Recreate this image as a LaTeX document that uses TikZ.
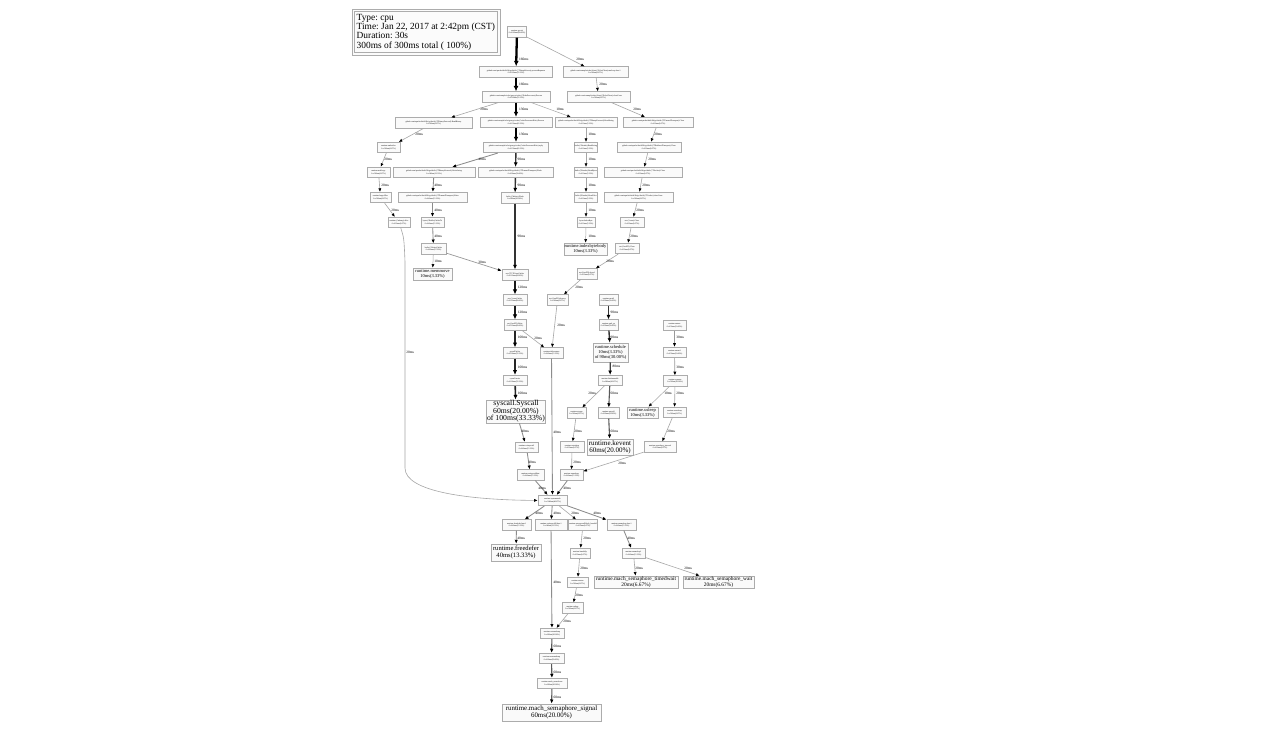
\documentclass[tikz,border=0pt]{standalone}
\usepackage{fontspec}
\setmainfont{Liberation Serif}
\usetikzlibrary{arrows.meta}
\frenchspacing
\begin{document}
\begin{tikzpicture}[x=1pt,y=-1pt,
  sn/.style={draw=gray!65, line width=0.6pt, fill=gray!4, font=\fontsize{2}{2.6}\selectfont, align=center, inner sep=0.6pt, minimum height=10.5pt},
  bn/.style={draw=gray!65, line width=0.6pt, fill=gray!4, align=center, inner sep=0.5pt},
  legend/.style={align=left, inner sep=0pt, anchor=west, font=\fontsize{9.4}{9.3}\selectfont},
  lbl/.style={font=\fontsize{3.5}{4}\selectfont, anchor=west, inner sep=0pt},
  tip/.style={-{Latex[length=3pt 1.1, width=2.4pt 1.1, color=black]}},
  w10/.style={tip, draw=gray!70, line width=0.5pt},
  w20/.style={tip, draw=gray!70, line width=0.6pt},
  w30/.style={tip, draw=gray!80, line width=0.7pt},
  w40/.style={tip, draw=gray!90, line width=0.85pt},
  w60/.style={tip, draw=black!65, line width=1.1pt},
  w80/.style={tip, draw=black!75, line width=1.3pt},
  w90/.style={tip, draw=black!80, line width=1.4pt},
  w100/.style={tip, draw=black!85, line width=1.6pt},
  w120/.style={tip, draw=black!90, line width=1.8pt},
  w130/.style={tip, draw=black, line width=2pt},
  w160/.style={tip, draw=black, line width=2.3pt}
]
\useasboundingbox (0,0) rectangle (1264,732);
\fill[white] (0,0) rectangle (1264,732);

% legend
\draw[gray!65, line width=0.7pt, fill=gray!3] (352,9) rectangle (500,55);
\draw[gray!65, line width=0.7pt] (354.5,11.5) rectangle (497.5,52.5);
\node[legend] (legend) at (356.5,32) {Type: cpu\\Time: Jan 22, 2017 at 2:42pm (CST)\\Duration: 30s\\300ms of 300ms total ( 100\%)};

% nodes
\node[sn, minimum width=19pt] (goexit) at (517,32) {runtime.goexit\\0 of 180ms(60.00\%)};
\node[sn, minimum width=73pt] (n2) at (516,72) {github.com/apache/thrift/lib/go/thrift.(*TSimpleServer).processRequests\\0 of 160ms(53.33\%)};
\node[sn, minimum width=65pt] (n3) at (595.5,72) {github.com/example/echo/client.(*EchoClient).runLoop.func1\\0 of 20ms(6.67\%)};
\node[sn, minimum width=68pt] (n4) at (516,97) {github.com/example/echo/gen-go/echo.(*EchoProcessor).Process\\0 of 160ms(53.33\%)};
\node[sn, minimum width=63pt] (n5) at (598.5,97) {github.com/example/echo/client.(*EchoClient).closeConn\\0 of 20ms(6.67\%)};
\node[sn, minimum width=77pt] (n6) at (433.5,123) {github.com/apache/thrift/lib/go/thrift.(*TBinaryProtocol).ReadBinary\\0 of 20ms(6.67\%)};
\node[sn, minimum width=72pt] (n7) at (516,122.5) {github.com/example/echo/gen-go/echo.(*echoProcessorEcho).Process\\0 of 130ms(43.33\%)};
\node[sn, minimum width=62pt] (n8) at (586,122.5) {github.com/apache/thrift/lib/go/thrift.(*TBinaryProtocol).ReadString\\0 of 10ms(3.33\%)};
\node[sn, minimum width=70pt] (n9r) at (658,122.5) {github.com/apache/thrift/lib/go/thrift.(*TFramedTransport).Close\\0 of 20ms(6.67\%)};
\node[sn, minimum width=65pt] (n9) at (516,147.5) {github.com/example/echo/gen-go/echo.(*echoProcessorEcho).reply\\0 of 130ms(43.33\%)};
\node[sn, minimum width=23pt] (l1) at (388.5,147.5) {runtime.makeslice\\0 of 20ms(6.67\%)};
\node[sn, minimum width=19pt] (b1) at (586,147.5) {bufio.(*Reader).ReadString\\0 of 10ms(3.33\%)};
\node[sn, minimum width=64pt] (r1) at (649,147.5) {github.com/apache/thrift/lib/go/thrift.(*TBufferedTransport).Close\\0 of 20ms(6.67\%)};
\node[sn, minimum width=23pt] (l2) at (378.5,172.5) {runtime.mallocgc\\0 of 20ms(6.67\%)};
\node[sn, minimum width=82pt] (n10) at (434,172.5) {github.com/apache/thrift/lib/go/thrift.(*TBinaryProtocol).WriteString\\0 of 40ms(13.33\%)};
\node[sn, minimum width=75pt] (n11) at (515.5,172.5) {github.com/apache/thrift/lib/go/thrift.(*TFramedTransport).Flush\\0 of 90ms(30.00\%)};
\node[sn, minimum width=18pt] (b2) at (586,172.5) {bufio.(*Reader).ReadBytes\\0 of 10ms(3.33\%)};
\node[sn, minimum width=78pt] (r2) at (643,172.5) {github.com/apache/thrift/lib/go/thrift.(*TSocket).Close\\0 of 20ms(6.67\%)};
\node[sn, minimum width=21pt] (l3) at (380.5,197.5) {runtime.largeAlloc\\0 of 20ms(6.67\%)};
\node[sn, minimum width=69pt] (n12) at (432.5,197.5) {github.com/apache/thrift/lib/go/thrift.(*TFramedTransport).Write\\0 of 40ms(13.33\%)};
\node[sn, minimum width=28pt] (n15) at (515,198) {bufio.(*Writer).Flush\\0 of 90ms(30.00\%)};
\node[sn, minimum width=19pt] (b3) at (586,197.5) {bufio.(*Reader).ReadSlice\\0 of 10ms(3.33\%)};
\node[sn, minimum width=69pt] (r3) at (638.5,197.5) {github.com/apache/thrift/lib/go/thrift.(*TSocket).closeConn\\0 of 20ms(6.67\%)};
\node[sn, minimum width=22pt] (l4) at (399,222.5) {runtime.(*mheap).alloc\\0 of 20ms(6.67\%)};
\node[sn, minimum width=23pt] (n13) at (432.5,222.5) {bytes.(*Buffer).WriteTo\\0 of 40ms(13.33\%)};
\node[sn, minimum width=18pt] (b4) at (586,222.5) {bytes.IndexByte\\0 of 10ms(3.33\%)};
\node[sn, minimum width=24pt] (r4) at (632,222.5) {net.(*conn).Close\\0 of 20ms(6.67\%)};
\node[sn, minimum width=25pt] (n14) at (433.5,249) {bufio.(*Writer).Write\\0 of 40ms(13.33\%)};
\node[bn, minimum width=43pt, minimum height=12pt, font=\fontsize{4.5}{5}\selectfont] (idx) at (585.5,249) {runtime.indexbytebody\\10ms(3.33\%)};
\node[sn, minimum width=24pt] (r5) at (627,248.5) {net.(*netFD).Close\\0 of 20ms(6.67\%)};
\node[bn, minimum width=39pt, minimum height=12pt, font=\fontsize{4.5}{5}\selectfont] (memmove) at (432.5,274) {runtime.memmove\\10ms(3.33\%)};
\node[sn, minimum width=26pt] (n17) at (515,275) {net.(*TCPConn).Write\\0 of 120ms(40.00\%)};
\node[sn, minimum width=20pt] (r6) at (587,274) {net.(*netFD).decref\\0 of 20ms(6.67\%)};
\node[sn, minimum width=21pt] (r7) at (557.5,300) {net.(*netFD).destroy\\0 of 20ms(6.67\%)};
\node[sn, minimum width=24pt] (n18) at (515,300) {net.(*conn).Write\\0 of 120ms(40.00\%)};
\node[sn, minimum width=19pt] (mcall) at (608.5,300) {runtime.mcall\\0 of 90ms(30.00\%)};
\node[sn, minimum width=22pt] (n19) at (515,325) {net.(*netFD).Write\\0 of 120ms(40.00\%)};
\node[sn, minimum width=19pt] (parkm) at (608.5,325) {runtime.park\_m\\0 of 90ms(30.00\%)};
\node[sn, minimum width=23pt] (mstart) at (674.5,325.5) {runtime.mstart\\0 of 30ms(10.00\%)};
\node[sn, minimum width=24pt] (n20) at (515,353) {syscall.Write\\0 of 100ms(33.33\%)};
\node[sn, minimum width=23pt] (n21) at (551.5,353) {runtime.deferreturn\\0 of 40ms(13.33\%)};
\node[bn, minimum width=35pt, minimum height=19pt, font=\fontsize{4.5}{5.3}\selectfont] (sched) at (610.5,352.5) {runtime.schedule\\10ms(3.33\%)\\of 90ms(30.00\%)};
\node[sn, minimum width=23pt] (mstart1) at (674.5,352.5) {runtime.mstart1\\0 of 30ms(10.00\%)};
\node[sn, minimum width=24pt] (n22) at (515,380.5) {syscall.write\\0 of 100ms(33.33\%)};
\node[sn, minimum width=24pt] (findr) at (610,380.5) {runtime.findrunnable\\0 of 80ms(26.67\%)};
\node[sn, minimum width=24pt] (sysmon) at (675,381) {runtime.sysmon\\0 of 30ms(10.00\%)};
\node[bn, minimum width=58pt, minimum height=23pt, font=\fontsize{7.7}{7.4}\selectfont] (syscall) at (516,411.5) {syscall.Syscall\\60ms(20.00\%)\\of 100ms(33.33\%)};
\node[sn, minimum width=19pt] (stopm) at (576.5,413) {runtime.stopm\\0 of 20ms(6.67\%)};
\node[sn, minimum width=21pt] (netpoll) at (608.5,413) {runtime.netpoll\\0 of 60ms(20.00\%)};
\node[bn, minimum width=31pt, minimum height=11pt, font=\fontsize{4.5}{5}\selectfont] (usleep) at (642.5,412.5) {runtime.usleep\\10ms(3.33\%)};
\node[sn, minimum width=23pt] (notets) at (674.5,412.5) {runtime.notetsleep\\0 of 20ms(6.67\%)};
\node[sn, minimum width=23pt] (n23) at (526.5,447.5) {runtime.exitsyscall\\0 of 40ms(13.33\%)};
\node[sn, minimum width=24pt] (notes) at (572,447) {runtime.notesleep\\0 of 20ms(6.67\%)};
\node[bn, minimum width=46pt, minimum height=16pt, font=\fontsize{7}{7}\selectfont] (kevent) at (610,447) {runtime.kevent\\60ms(20.00\%)};
\node[sn, minimum width=32pt] (notetsi) at (660,447) {runtime.notetsleep\_internal\\0 of 20ms(6.67\%)};
\node[sn, minimum width=27pt] (n24) at (530.5,475) {runtime.exitsyscallfast\\0 of 40ms(13.33\%)};
\node[sn, minimum width=23pt] (semas) at (571.5,475) {runtime.semasleep\\0 of 40ms(13.33\%)};
\node[sn, minimum width=29pt] (sysstk) at (552.5,500.5) {runtime.systemstack\\0 of 140ms(46.67\%)};
\node[sn, minimum width=29pt] (s1) at (516.5,525) {runtime.freedefer.func1\\0 of 40ms(13.33\%)};
\node[sn, minimum width=32pt] (s2) at (551,525) {runtime.exitsyscall0.func1\\0 of 40ms(13.33\%)};
\node[sn, minimum width=20pt] (s3) at (583,525) {runtime.entersyscallblock\_handoff\\0 of 20ms(6.67\%)};
\node[sn, minimum width=29pt] (s4) at (621.5,525) {runtime.semasleep.func1\\0 of 40ms(13.33\%)};
\node[bn, minimum width=50pt, minimum height=17pt, font=\fontsize{6.6}{7}\selectfont] (freedefer) at (516,552.5) {runtime.freedefer\\40ms(13.33\%)};
\node[sn, minimum width=20pt] (handoffp) at (580,553.5) {runtime.handoffp\\0 of 20ms(6.67\%)};
\node[sn, minimum width=23pt] (semas1) at (633.5,553.5) {runtime.semasleep1\\0 of 40ms(13.33\%)};
\node[bn, minimum width=84pt, minimum height=12pt, font=\fontsize{5.4}{5.6}\selectfont] (timedwait) at (636,582) {runtime.mach\_semaphore\_timedwait\\20ms(6.67\%)};
\node[bn, minimum width=71pt, minimum height=12pt, font=\fontsize{5.4}{5.6}\selectfont] (wait) at (718.5,582) {runtime.mach\_semaphore\_wait\\20ms(6.67\%)};
\node[sn, minimum width=21pt] (startm) at (577.5,582.5) {runtime.startm\\0 of 20ms(6.67\%)};
\node[sn, minimum width=21pt] (wakep) at (572.5,608) {runtime.wakep\\0 of 20ms(6.67\%)};
\node[sn, minimum width=24pt] (notew) at (552,633.5) {runtime.notewakeup\\0 of 60ms(20.00\%)};
\node[sn, minimum width=25pt] (semaw) at (551.5,658.5) {runtime.semawakeup\\0 of 60ms(20.00\%)};
\node[sn, minimum width=30pt] (machsr) at (552,683.5) {runtime.mach\_semrelease\\0 of 60ms(20.00\%)};
\node[bn, minimum width=99pt, minimum height=17pt, font=\fontsize{6.9}{7.2}\selectfont] (signal) at (551.5,712.5) {runtime.mach\_semaphore\_signal\\60ms(20.00\%)};

% edges
\draw[w160] (goexit) -- (n2) node[lbl, at={(518,59)}] {160ms};
\draw[w20] (goexit) -- (n3) node[lbl, at={(576,59)}] {20ms};
\draw[w160] (n2) -- (n4) node[lbl, at={(518,84)}] {160ms};
\draw[w20] (n3) -- (n5) node[lbl, at={(599,84)}] {20ms};
\draw[w20] (n4) -- (n6) node[lbl, at={(480,109)}] {20ms};
\draw[w130] (n4) -- (n7) node[lbl, at={(518,109)}] {130ms};
\draw[w10] (n4) -- (n8) node[lbl, at={(556,109)}] {10ms};
\draw[w20] (n5) -- (n9r) node[lbl, at={(633,109)}] {20ms};
\draw[w20] (n6) -- (l1) node[lbl, at={(415,134)}] {20ms};
\draw[w130] (n7) -- (n9) node[lbl, at={(518,134)}] {130ms};
\draw[w10] (n8) -- (b1) node[lbl, at={(588,134)}] {10ms};
\draw[w20] (n9r) -- (r1) node[lbl, at={(654,134)}] {20ms};
\draw[w20] (l1) -- (l2) node[lbl, at={(384,159)}] {20ms};
\draw[w40] (n9) -- (n10) node[lbl, at={(478,159)}] {40ms};
\draw[w90] (n9) -- (n11) node[lbl, at={(517,159)}] {90ms};
\draw[w10] (b1) -- (b2) node[lbl, at={(588,159)}] {10ms};
\draw[w20] (r1) -- (r2) node[lbl, at={(648,159)}] {20ms};
\draw[w20] (l2) -- (l3) node[lbl, at={(381,185)}] {20ms};
\draw[w40] (n10) -- (n12) node[lbl, at={(434,185)}] {40ms};
\draw[w90] (n11) -- (n15) node[lbl, at={(517,185)}] {90ms};
\draw[w10] (b2) -- (b3) node[lbl, at={(588,185)}] {10ms};
\draw[w20] (r2) -- (r3) node[lbl, at={(642,185)}] {20ms};
\draw[w20] (l3) -- (l4) node[lbl, at={(391,210)}] {20ms};
\draw[w40] (n12) -- (n13) node[lbl, at={(434,210)}] {40ms};
\draw[w10] (b3) -- (b4) node[lbl, at={(588,210)}] {10ms};
\draw[w20] (r3) -- (r4) node[lbl, at={(636,210)}] {20ms};
\draw[w40] (n13) -- (n14) node[lbl, at={(434,236)}] {40ms};
\draw[w10] (b4) -- (idx) node[lbl, at={(588,236)}] {10ms};
\draw[w20] (r4) -- (r5) node[lbl, at={(630,236)}] {20ms};
\draw[w10] (n14) -- (memmove) node[lbl, at={(434,261)}] {10ms};
\draw[w30] (n14) -- (n17) node[lbl, at={(478,262)}] {30ms};
\draw[w90] (n15) -- (n17) node[lbl, at={(517,236)}] {90ms};
\draw[w20] (r5) -- (r6) node[lbl, at={(606,261)}] {20ms};
\draw[w120] (n17) -- (n18) node[lbl, at={(517,287)}] {120ms};
\draw[w20] (r6) -- (r7) node[lbl, at={(575,287)}] {20ms};
\draw[w90] (mcall) -- (parkm) node[lbl, at={(610,312)}] {90ms};
\draw[w120] (n18) -- (n19) node[lbl, at={(517,312)}] {120ms};
\draw[w20] (r7) -- (n21) node[lbl, at={(557,325)}] {20ms};
\draw[w100] (n19) -- (n20) node[lbl, at={(517,337)}] {100ms};
\draw[w20] (n19) -- (n21) node[lbl, at={(534,338)}] {20ms};
\draw[w90] (parkm) -- (sched) node[lbl, at={(610,337)}] {90ms};
\draw[w30] (mstart) -- (mstart1) node[lbl, at={(676,337)}] {30ms};
\draw[w100] (n20) -- (n22) node[lbl, at={(517,367)}] {100ms};
\draw[w80] (sched) -- (findr) node[lbl, at={(612,366)}] {80ms};
\draw[w30] (mstart1) -- (sysmon) node[lbl, at={(676,367)}] {30ms};
\draw[w100] (n22) -- (syscall) node[lbl, at={(517,393)}] {100ms};
\draw[w20] (findr) -- (stopm) node[lbl, at={(588,393)}] {20ms};
\draw[w60] (findr) -- (netpoll) node[lbl, at={(610,393)}] {60ms};
\draw[w10] (sysmon) -- (usleep) node[lbl, at={(664,393)}] {10ms};
\draw[w20] (sysmon) -- (notets) node[lbl, at={(676,393)}] {20ms};
\draw[w40] (syscall) -- (n23) node[lbl, at={(521,431)}] {40ms};
\draw[w40] (n21) -- (sysstk) node[lbl, at={(553,432)}] {40ms};
\draw[w20] (stopm) -- (notes) node[lbl, at={(574,431)}] {20ms};
\draw[w60] (netpoll) -- (kevent) node[lbl, at={(610,431)}] {60ms};
\draw[w20] (notets) -- (notetsi) node[lbl, at={(667,431)}] {20ms};
\draw[w40] (n23) -- (n24) node[lbl, at={(528,462)}] {40ms};
\draw[w20] (notes) -- (semas) node[lbl, at={(573,462)}] {20ms};
\draw[w20] (notetsi) -- (semas) node[lbl, at={(618,463)}] {20ms};
\draw[w40] (n24) -- (sysstk) node[lbl, at={(538,488)}] {40ms};
\draw[w40] (semas) -- (sysstk) node[lbl, at={(563,488)}] {40ms};
\draw[w20] (l4) .. controls (404,238) .. (405,262) -- (405,468) .. controls (405,492) and (470,500) .. (sysstk) node[lbl, at={(406,352)}] {20ms};
\draw[w40] (sysstk) -- (s1) node[lbl, at={(535,513)}] {40ms};
\draw[w40] (sysstk) -- (s2) node[lbl, at={(553,513)}] {40ms};
\draw[w20] (sysstk) -- (s3) node[lbl, at={(571,513)}] {20ms};
\draw[w40] (sysstk) -- (s4) node[lbl, at={(593,513)}] {40ms};
\draw[w40] (s1) -- (freedefer) node[lbl, at={(517,538)}] {40ms};
\draw[w40] (s2) -- (notew) node[lbl, at={(553,582)}] {40ms};
\draw[w20] (s3) -- (handoffp) node[lbl, at={(583,538)}] {20ms};
\draw[w40] (s4) -- (semas1) node[lbl, at={(627,538)}] {40ms};
\draw[w20] (handoffp) -- (startm) node[lbl, at={(580,568)}] {20ms};
\draw[w20] (semas1) -- (timedwait) node[lbl, at={(635,568)}] {20ms};
\draw[w20] (semas1) -- (wait) node[lbl, at={(684,568)}] {20ms};
\draw[w20] (startm) -- (wakep) node[lbl, at={(575,595)}] {20ms};
\draw[w20] (wakep) -- (notew) node[lbl, at={(563,621)}] {20ms};
\draw[w60] (notew) -- (semaw) node[lbl, at={(553,646)}] {60ms};
\draw[w60] (semaw) -- (machsr) node[lbl, at={(553,672)}] {60ms};
\draw[w60] (machsr) -- (signal) node[lbl, at={(553,697)}] {60ms};
\end{tikzpicture}
\end{document}
